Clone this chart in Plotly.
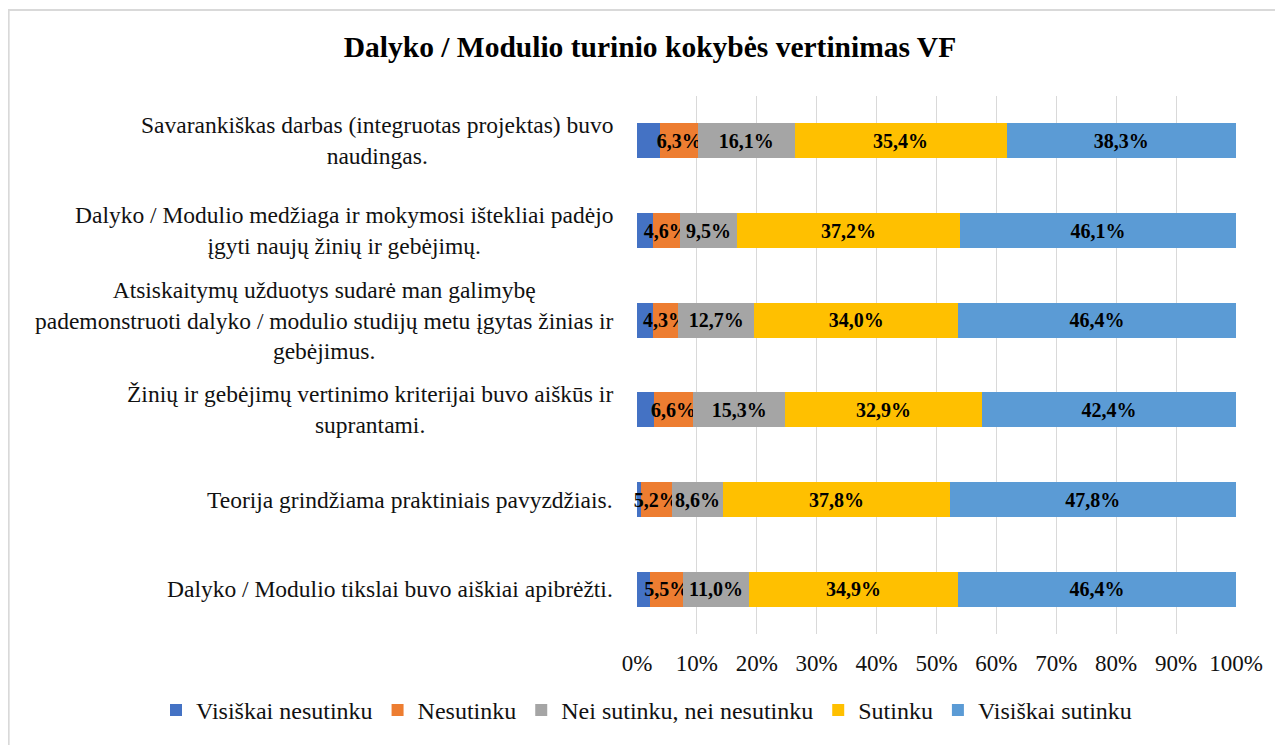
import plotly.graph_objects as go

categories = [
    "Savarankiškas darbas (integruotas projektas) buvo<br>naudingas.",
    "Dalyko / Modulio medžiaga ir mokymosi ištekliai padėjo<br>įgyti naujų žinių ir gebėjimų.",
    "Atsiskaitymų užduotys sudarė man galimybę<br>pademonstruoti dalyko / modulio studijų metu įgytas žinias ir<br>gebėjimus.",
    "Žinių ir gebėjimų vertinimo kriterijai buvo aiškūs ir<br>suprantami.",
    "Teorija grindžiama praktiniais pavyzdžiais.",
    "Dalyko / Modulio tikslai buvo aiškiai apibrėžti.",
]
visiskai_nesutinku = [3.9, 2.6, 2.6, 2.8, 0.6, 2.2]
nesutinku = [6.3, 4.6, 4.3, 6.6, 5.2, 5.5]
nei = [16.1, 9.5, 12.7, 15.3, 8.6, 11.0]
sutinku = [35.4, 37.2, 34.0, 32.9, 37.8, 34.9]
visiskai_sutinku = [38.3, 46.1, 46.4, 42.4, 47.8, 46.4]

series_names = ["Visiškai nesutinku", "Nesutinku", "Nei sutinku, nei nesutinku", "Sutinku", "Visiškai sutinku"]
series_values = [visiskai_nesutinku, nesutinku, nei, sutinku, visiskai_sutinku]
series_colors = ["#4472C4", "#ED7D31", "#A5A5A5", "#FFC000", "#5B9BD5"]
show_labels = [False, True, True, True, True]

FONT = "Liberation Serif, Times New Roman, serif"
LABEL_SIZE = 20

fig = go.Figure()
for name, vals, col, lab in zip(series_names, series_values, series_colors, show_labels):
    fig.add_trace(go.Bar(
        y=categories, x=vals, name=name, orientation="h",
        marker=dict(color=col, line=dict(width=0)),
        text=[f"{v:.1f}%".replace(".", ",") for v in vals] if lab else None,
        textposition="inside" if lab else "none",
        insidetextanchor="middle",
        textangle=0,
        cliponaxis=False,
        textfont=dict(family=FONT, size=LABEL_SIZE, color="black", weight="bold"),
    ))

for c in categories:
    fig.add_annotation(
        x=0, xref="paper", y=c, yref="y", text=c, showarrow=False,
        xanchor="right", yanchor="middle", align="center", xshift=-22,
        font=dict(family=FONT, size=23.5, color="#111111"),
    )

fig.add_shape(type="rect", xref="paper", yref="paper",
              x0=-1.049, x1=1.2, y0=-0.5, y1=1.16,
              line=dict(color="#D9D9D9", width=2), fillcolor="rgba(0,0,0,0)", layer="below")

fig.update_layout(
    barmode="stack",
    bargap=0.61,
    width=1275, height=737,
    margin=dict(l=629, r=47, t=88, b=111),
    paper_bgcolor="white", plot_bgcolor="white",
    font=dict(family=FONT, size=23, color="#111111"),
    title=dict(text="<b>Dalyko / Modulio turinio kokybės vertinimas VF</b>",
               x=0.5035, xanchor="center", xref="container",
               y=0.948, yanchor="middle", yref="container",
               font=dict(family=FONT, size=29.5, color="black")),
    uniformtext=dict(minsize=LABEL_SIZE, mode="show"),
    legend=dict(orientation="h", xref="paper", yref="paper",
                x=-0.803, xanchor="left", y=-0.142, yanchor="middle",
                font=dict(family=FONT, size=24, color="#111111"),
                traceorder="normal"),
    showlegend=True,
)
fig.update_xaxes(range=[0, 100], dtick=10, ticksuffix="%", showgrid=True,
                 gridcolor="#D9D9D9", gridwidth=1.3, zeroline=False,
                 tickfont=dict(family=FONT, size=23, color="#111111"),
                 ticklabelstandoff=13, fixedrange=True)
fig.update_yaxes(autorange="reversed", showticklabels=False, showgrid=False,
                 showline=False, zeroline=False)

fig.write_html("out.html")
